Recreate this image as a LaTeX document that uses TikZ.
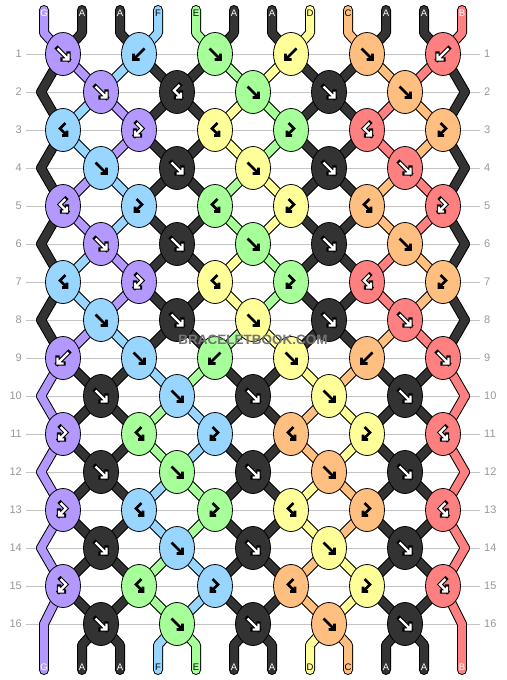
\documentclass[tikz,border=0pt]{standalone}
\usepackage{fontspec}
\setmainfont{Liberation Sans}
\usetikzlibrary{shapes.geometric}
\definecolor{c0}{HTML}{333333}
\definecolor{c1}{HTML}{B399FF}
\definecolor{c2}{HTML}{99D6FF}
\definecolor{c3}{HTML}{A6FF99}
\definecolor{c4}{HTML}{FFFF99}
\definecolor{c5}{HTML}{FFBF80}
\definecolor{c6}{HTML}{FF8080}
\definecolor{rowln}{HTML}{C4C4C4}
\definecolor{rowtx}{HTML}{999999}
\definecolor{wmfill}{HTML}{747474}
\tikzset{
  strout/.style={line width=10pt, draw=black, line cap=round, line join=round},
  knot/.style={ellipse, draw=black, line width=0.8pt, minimum width=35pt, minimum height=43pt, inner sep=0pt},
  rowline/.style={draw=rowln, line width=0.8pt},
  rowlbl/.style={text=rowtx, font=\fontsize{11}{12}\selectfont, inner sep=0pt},
  endlbl/.style={font=\fontsize{9.5}{10}\selectfont, inner sep=0pt},
}
\def\stA{1,0,0,2,3,0,0,4,5,0,0,6}
\def\stB{0,1,2,0,0,3,4,0,0,5,6,0}
\def\stC{0,2,1,0,0,4,3,0,0,6,5,0}
\def\stD{1,0,0,3,2,0,0,5,4,0,0,6}
\newcommand\setloc[3]{%
  \ifodd#1\relax
    \pgfmathtruncatemacro\tmpj{(#2+1)/2}\edef#3{k#1-\tmpj}%
  \else
    \ifnum#2=1\relax \edef#3{eL#1}%
    \else\ifnum#2=12\relax \edef#3{eR#1}%
    \else \pgfmathtruncatemacro\tmpj{#2/2}\edef#3{k#1-\tmpj}%
    \fi\fi
  \fi}
\newcommand\dostrings[1]{%
  \foreach \r/\st in {1/\stB,2/\stC,3/\stC,4/\stB,5/\stB,6/\stC,7/\stC,8/\stB,9/\stA,10/\stD,11/\stD,12/\stA,13/\stA,14/\stD,15/\stD}{%
    \edef\curlist{\st}%
    \pgfmathtruncatemacro\rn{\r+1}%
    \foreach \c [count=\p] in \curlist {%
      \setloc{\r}{\p}\la \setloc{\rn}{\p}\lb
      \draw[#1] (\la) -- (\lb);
    }%
  }%
  \foreach \c [count=\p] in \stA {%
    \pgfmathsetmacro\xp{44+38*(\p-1)}%
    \setloc{1}{\p}\la \setloc{16}{\p}\lb
    \draw[#1] (\xp,10) -- (\xp,33) -- (\la);
    \draw[#1] (\lb) -- (\xp,645) -- (\xp,670);
  }%
}
\newcommand\apath[1]{%
  \ifnum\aw=1
    \draw[line width=4.4pt,black,line join=miter,line cap=rect] #1;
    \draw[line width=2.2pt,white,line join=miter] #1;
  \else
    \draw[line width=2.6pt,black,line join=miter] #1;
  \fi}
\newcommand\karrow[2]{%
  \ifnum#2=0 \def\aw{1}\else\ifnum#2=1 \def\aw{1}\else\ifnum#2=6 \def\aw{1}\else\def\aw{0}\fi\fi\fi
  \ifcase#1\or
    \apath{(-5.5,-5.5)--(5.5,5.5) (5.5,-0.5)--(5.5,5.5)--(-0.5,5.5)}%
  \or
    \apath{(5.5,-5.5)--(-5.5,5.5) (-5.5,-0.5)--(-5.5,5.5)--(0.5,5.5)}%
  \or
    \apath{(-2.5,-7)--(3,-1.5)--(-4,5.5) (-4,0.5)--(-4,5.5)--(1,5.5)}%
  \or
    \apath{(2.5,-7)--(-3,-1.5)--(4,5.5) (4,0.5)--(4,5.5)--(-1,5.5)}%
  \fi}
\begin{document}
\begin{tikzpicture}[x=1pt,y=-1pt]
\useasboundingbox (0,0) rectangle (506,680);
\fill[white] (0,0) rectangle (506,680);
% row lines and numbers
\foreach \r in {1,...,16}{%
  \pgfmathsetmacro\yy{54+38*(\r-1)}%
  \draw[rowline] (26,\yy) -- (480,\yy);
  \node[rowlbl, anchor=east] (rl\r) at (22,\yy) {\r};
  \node[rowlbl, anchor=west] (rr\r) at (484,\yy) {\r};
}
% knot positions
\foreach \r in {1,...,16}{%
  \pgfmathsetmacro\yy{54+38*(\r-1)}%
  \ifodd\r\relax
    \foreach \j in {1,...,6}{\pgfmathsetmacro\xx{63+76*(\j-1)}\coordinate (k\r-\j) at (\xx,\yy);}%
  \else
    \foreach \j in {1,...,5}{\pgfmathsetmacro\xx{101+76*(\j-1)}\coordinate (k\r-\j) at (\xx,\yy);}%
    \coordinate (eL\r) at (41,\yy);
    \coordinate (eR\r) at (465,\yy);
  \fi
}
\coordinate (eL16) at (44,624);
\coordinate (eR16) at (462,624);
% strings
\dostrings{strout}
\dostrings{line width=8pt, line cap=round, line join=round, draw=c\c}
% end labels
\foreach \c/\l/\tc [count=\p] in {1/G/white,0/A/white,0/A/white,2/F/black,3/E/black,0/A/white,0/A/white,4/D/black,5/C/black,0/A/white,0/A/white,6/B/white}{%
  \pgfmathsetmacro\xp{44+38*(\p-1)}%
  \node[endlbl, text=\tc] (tl\p) at (\xp,13) {\l};
  \node[endlbl, text=\tc] (bl\p) at (\xp,667) {\l};
}
% knots
\foreach \r/\data in {%
  1/{1/1,2/2,3/1,4/2,5/1,6/2},
  2/{1/1,0/4,3/1,0/1,5/1},
  3/{2/4,1/3,4/4,3/3,6/4,5/3},
  4/{2/1,0/1,4/1,0/1,6/1},
  5/{1/4,2/3,3/4,4/3,5/4,6/3},
  6/{1/1,0/1,3/1,0/1,5/1},
  7/{2/4,1/3,4/4,3/3,6/4,5/3},
  8/{2/1,0/1,4/1,0/1,6/1},
  9/{1/2,2/1,3/2,4/1,5/2,6/1},
  10/{0/1,2/1,0/1,4/1,0/1},
  11/{1/3,3/4,2/3,5/4,4/3,6/4},
  12/{0/1,3/1,0/1,5/1,0/1},
  13/{1/3,2/4,3/3,4/4,5/3,6/4},
  14/{0/1,2/1,0/1,4/1,0/1},
  15/{1/3,3/4,2/3,5/4,4/3,6/4},
  16/{0/1,3/1,0/1,5/1,0/1}}{%
  \foreach \c/\t [count=\j] in \data {%
    \node[knot, fill=c\c] (n\r-\j) at (k\r-\j) {};
    \begin{scope}[shift={(k\r-\j)}]
      \karrow{\t}{\c}
    \end{scope}
  }%
}
% watermark
\node[text=wmfill, font=\bfseries\fontsize{13.5}{14}\selectfont] (wm) at (253,340) {BRACELETBOOK.COM};
\end{tikzpicture}
\end{document}
